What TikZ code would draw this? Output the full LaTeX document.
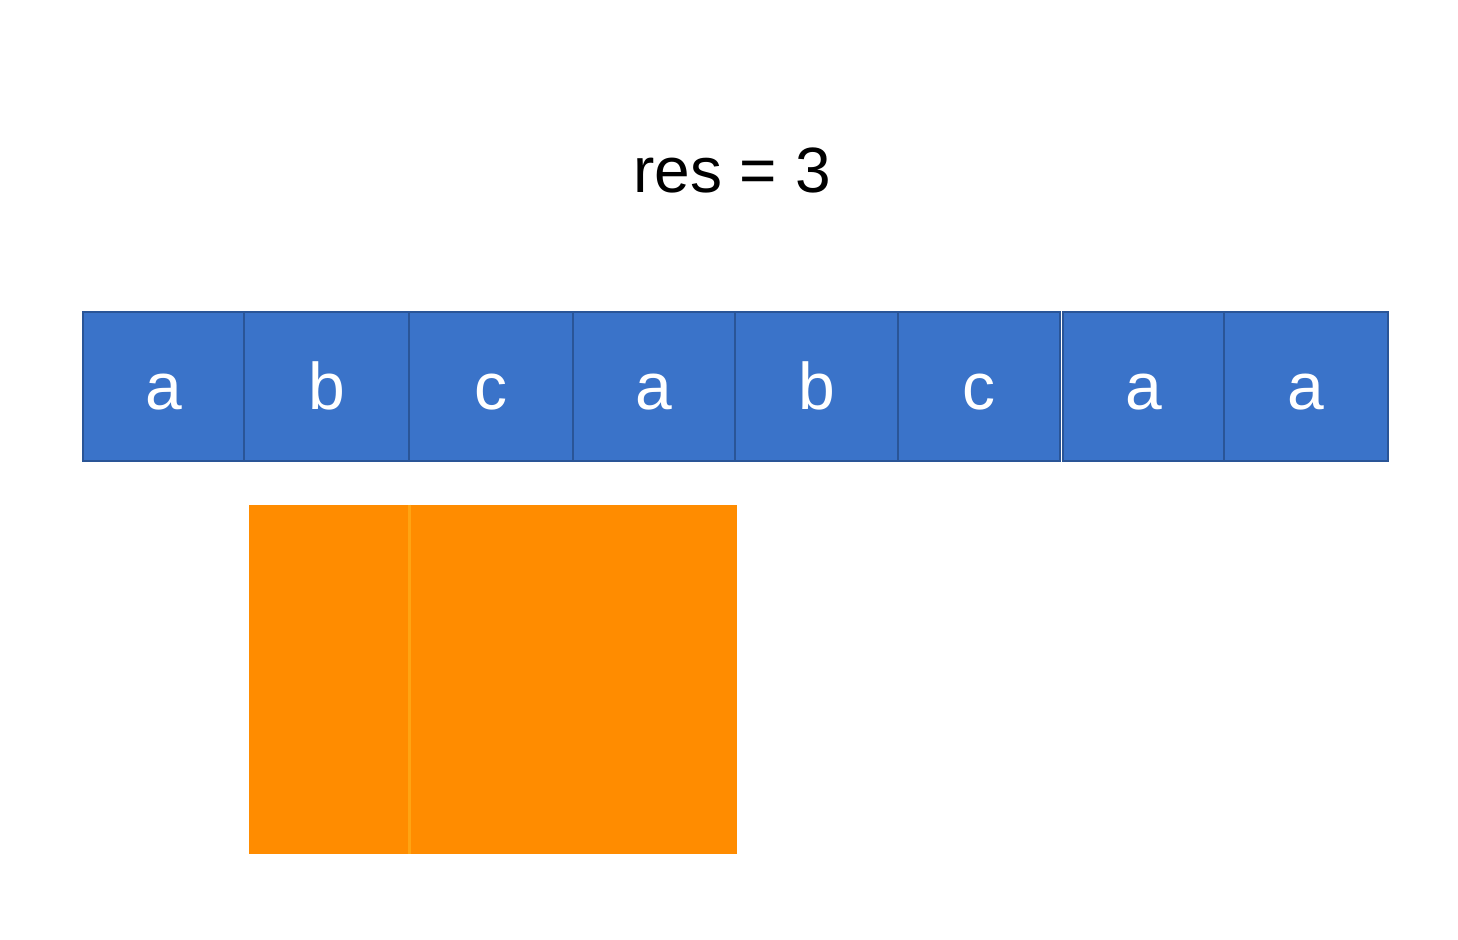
\documentclass[tikz,border=0pt]{standalone}
\usepackage{fontspec}
\setmainfont{Liberation Sans}
\definecolor{cellblue}{HTML}{3A73C9}
\definecolor{cellborder}{HTML}{2A5597}
\definecolor{winorange}{HTML}{FF8C00}
\definecolor{divorange}{HTML}{FFA412}
\tikzset{
  cellbox/.style={draw=cellborder, fill=cellblue, line width=1.3pt, inner sep=0pt,
    minimum height=74.5pt, text=white, font=\fontsize{33}{33}\selectfont,
    text height=23.5pt, text depth=0pt},
  winbox/.style={fill=winorange, inner sep=0pt, minimum height=174.5pt},
  divider/.style={draw=divorange, line width=1.2pt},
  title/.style={font=\fontsize{32}{32}\selectfont, text=black}
}
\begin{document}
\begin{tikzpicture}[x=0.5pt, y=-0.5pt]
\useasboundingbox[fill=white] (0,0) rectangle (1458,940);
\node[title] (res) at (732,170) {res = 3};
% cells: centre x, width in px
\node[cellbox, minimum width=80.5pt] (c1) at (163.5,386.5) {a};
\node[cellbox, minimum width=82.5pt] (c2) at (326.5,386.5) {b};
\node[cellbox, minimum width=82pt]   (c3) at (491,386.5) {c};
\node[cellbox, minimum width=81pt]   (c4) at (654,386.5) {a};
\node[cellbox, minimum width=81.5pt] (c5) at (816.5,386.5) {b};
\node[cellbox, minimum width=81pt]   (c6) at (979,386.5) {c};
\node[cellbox, minimum width=80.5pt] (c7) at (1143.5,386.5) {a};
\node[cellbox, minimum width=82pt]   (c8) at (1306,386.5) {a};
% window
\node[winbox, minimum width=80pt]  (w1) at (329,679.5) {};
\node[winbox, minimum width=164pt] (w2) at (573,679.5) {};
\draw[divider] (w1.north east) -- (w1.south east);
\end{tikzpicture}
\end{document}
